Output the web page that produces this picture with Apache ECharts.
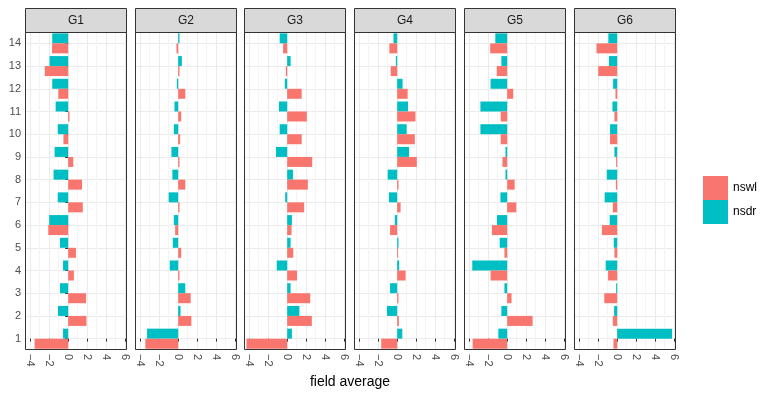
<!DOCTYPE html>
<html>
<head>
<meta charset="utf-8">
<script src="https://cdn.jsdelivr.net/npm/echarts@6/dist/echarts.min.js"></script>
<style>
  html, body { margin: 0; padding: 0; background: #fff; }
  #chart { width: 760px; height: 393px; }
</style>
</head>
<body>
<div id="chart"></div>
<script>
// rows 1..14 (bottom to top)
const categories = ["1", "2", "3", "4", "5", "6", "7", "8", "9", "10", "11", "12", "13", "14"];
const groups = ["G1", "G2", "G3", "G4", "G5", "G6"];
const majorTicks = [-4, -2, 0, 2, 4, 6];
const minorTicks = [-3, -1, 1, 3, 5];

const nswlG1 = [-3.54, 1.93, 1.89, 0.6, 0.82, -2.1, 1.54, 1.46, 0.54, -0.5, 0.14, -1.04, -2.46, -1.7];
const nsdrG1 = [-0.54, -1.07, -0.86, -0.54, -0.86, -2.0, -1.1, -1.54, -1.43, -1.1, -1.32, -1.68, -1.96, -1.68];
const nswlG2 = [-3.46, 1.39, 1.32, 0.14, 0.32, -0.32, 0.14, 0.75, 0.14, 0.21, 0.32, 0.75, 0.14, -0.18];
const nsdrG2 = [-3.28, 0.25, 0.75, -0.89, -0.57, -0.46, -1.0, -0.61, -0.71, -0.46, -0.39, -0.14, 0.39, 0.14];
const nswlG3 = [-4.29, 2.6, 2.43, 1.04, 0.64, 0.46, 1.79, 2.18, 2.64, 1.53, 2.07, 1.53, -0.14, -0.43];
const nsdrG3 = [0.5, 1.29, 0.36, -1.1, 0.36, 0.5, -0.21, 0.61, -1.18, -0.79, -0.86, -0.25, 0.36, -0.79];
const nswlG4 = [-1.68, 0.18, 0.14, 0.89, 0.1, -0.75, 0.36, 0.14, 2.07, 1.86, 1.93, 1.1, -0.68, -0.82];
const nsdrG4 = [0.54, -1.07, -0.75, 0.21, 0.14, -0.25, -0.86, -1.0, 1.25, 1.0, 1.14, 0.57, -0.14, -0.39];
const nswlG5 = [-3.64, 2.68, 0.46, -1.75, -0.29, -1.61, 0.96, 0.79, -0.5, -0.68, -0.68, 0.64, -1.1, -1.79];
const nsdrG5 = [-0.93, -0.61, -0.29, -3.68, -0.79, -1.07, -0.71, -0.18, -0.18, -2.82, -2.82, -1.75, -0.61, -1.25];
const nswlG6 = [-0.39, -0.46, -1.36, -0.96, -0.29, -1.61, -0.46, -0.14, -0.11, -0.75, -0.29, -0.18, -2.0, -2.18];
const nsdrG6 = [5.79, -0.32, -0.11, -1.21, -0.36, -0.79, -1.32, -1.1, -0.29, -0.75, -0.5, -0.43, -0.86, -0.93];

const nswlAll = [nswlG1, nswlG2, nswlG3, nswlG4, nswlG5, nswlG6];
const nsdrAll = [nsdrG1, nsdrG2, nsdrG3, nsdrG4, nsdrG5, nsdrG6];

const font = "'Liberation Sans', Arial, sans-serif";
const xMin = -4.55, xMax = 6.2;
const panelLefts = [25, 135, 244, 354, 464, 574];
const panelWidth = 102;
const panelTop = 32, panelHeight = 318;

let grids = [], xAxes = [], yAxes = [], series = [], graphics = [];
let rowCenters = categories.map(function (c, k) { return k; });

groups.forEach(function (g, i) {
    let left = panelLefts[i];
    grids.push({
        left: left, top: panelTop, width: panelWidth, height: panelHeight,
        show: true, borderWidth: 0, backgroundColor: "#fff",
    });
    // main axis: ticks, labels, major grid
    xAxes.push({
        type: "value", gridIndex: i, min: xMin, max: xMax,
        axisLine: { show: false },
        axisTick: { show: true, length: 3, customValues: majorTicks, lineStyle: { color: "#333" } },
        axisLabel: {
            customValues: majorTicks, rotate: -90, margin: 4,
            color: "#4D4D4D", fontSize: 11, fontFamily: font,
            formatter: function (v) { return String(v).replace("-", "\u2212"); },
        },
        splitLine: { show: true, lineStyle: { color: "#EBEBEB", width: 1 } },
    });
    yAxes.push({
        type: "category", gridIndex: i, data: categories,
        axisLine: { show: false },
        axisTick: { show: i === 0, alignWithLabel: true, length: 3, lineStyle: { color: "#333" } },
        axisLabel: { show: i === 0, color: "#4D4D4D", fontSize: 11, fontFamily: font, margin: 4 },
        splitLine: { show: false },
    });
    series.push({
        name: "nsdr", type: "bar", xAxisIndex: i, yAxisIndex: i,
        data: nsdrAll[i], barWidth: 10, barGap: "0%",
        itemStyle: { color: "#00BFC4" },
    });
    series.push({
        name: "nswl", type: "bar", xAxisIndex: i, yAxisIndex: i,
        data: nswlAll[i], barWidth: 10, barGap: "0%",
        itemStyle: { color: "#F8766D" },
    });
    // strip
    graphics.push({
        type: "rect", z: 100,
        shape: { x: left + 0.5, y: 8.5, width: panelWidth - 1, height: panelTop - 8 },
        style: { fill: "#D9D9D9", stroke: "#333", lineWidth: 1 },
    });
    graphics.push({
        type: "text", z: 101, x: left + panelWidth / 2, y: 20.5,
        style: { text: g, fill: "#1A1A1A", font: "12px " + font, align: "center", verticalAlign: "middle" },
    });
    // panel border on top of grid lines
    graphics.push({
        type: "rect", z: 100,
        shape: { x: left + 0.5, y: panelTop + 0.5, width: panelWidth - 1, height: panelHeight - 1 },
        style: { fill: null, stroke: "#333", lineWidth: 1 },
    });
});

// minor vertical grid lines on a second, silent axis per panel
groups.forEach(function (g, i) {
    xAxes.push({
        type: "value", gridIndex: i, min: xMin, max: xMax,
        axisLine: { show: false },
        axisTick: { show: false, customValues: minorTicks },
        axisLabel: { show: false, customValues: minorTicks },
        splitLine: { show: true, lineStyle: { color: "#F4F4F4", width: 1 } },
    });
});
// horizontal grid lines at row centres
groups.forEach(function (g, i) {
    yAxes.push({
        type: "value", gridIndex: i, min: -0.5, max: categories.length - 0.5,
        axisLine: { show: false },
        axisTick: { show: false, customValues: rowCenters },
        axisLabel: { show: false, customValues: rowCenters },
        splitLine: { show: true, lineStyle: { color: "#EBEBEB", width: 1 } },
    });
});

graphics.push({
    type: "text", x: 350, y: 382,
    style: { text: "field average", fill: "#000", font: "14px " + font, align: "center", verticalAlign: "middle" },
});

let chart = echarts.init(document.getElementById("chart"));
chart.setOption({
    animation: false,
    backgroundColor: "#fff",
    grid: grids,
    xAxis: xAxes,
    yAxis: yAxes,
    series: series,
    graphic: graphics,
    legend: {
        data: ["nswl", "nsdr"],
        orient: "vertical",
        left: 698, top: 171,
        icon: "rect", itemWidth: 25, itemHeight: 24, itemGap: 0,
        textStyle: { color: "#000", fontSize: 12, fontFamily: font },
    },
});
</script>
</body>
</html>
